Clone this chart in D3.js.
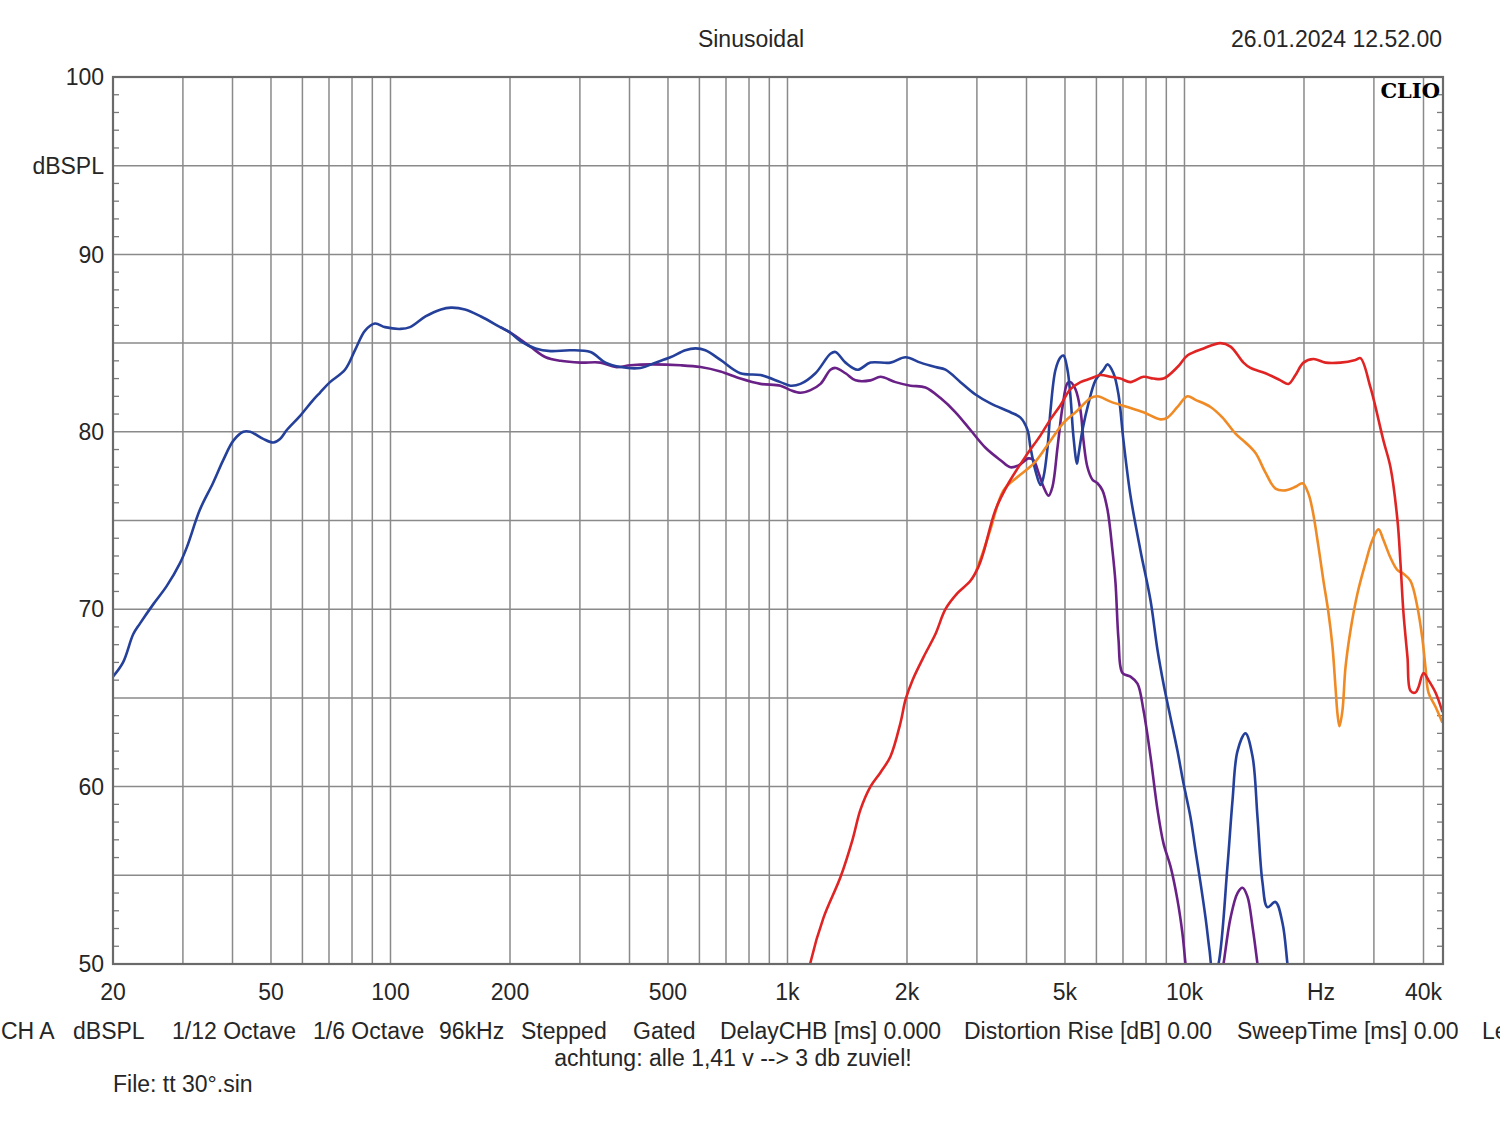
<!DOCTYPE html>
<html>
<head>
<meta charset="utf-8">
<script src="https://cdn.jsdelivr.net/npm/d3@7"></script>
<style>
  html, body { margin: 0; padding: 0; background: #fff; }
  svg { display: block; }
  text { font-family: "Liberation Sans", Arial, sans-serif; fill: #262626; }
</style>
</head>
<body>
<svg id="chart" width="1500" height="1121"></svg>
<script>
// ---------------- DATA ----------------
const titleText = "Sinusoidal";
const dateText = "26.01.2024 12.52.00";
const xTickValues = [20, 50, 100, 200, 500, 1000, 2000, 5000, 10000, 20000, 40000];
const xTickLabels = ["20", "50", "100", "200", "500", "1k", "2k", "5k", "10k", "Hz", "40k"];
const yTickValues = [100, 95, 90, 80, 70, 60, 50];
const yTickLabels = ["100", "dBSPL", "90", "80", "70", "60", "50"];
const footerItems = ["CH A", "dBSPL", "1/12 Octave", "1/6 Octave", "96kHz", "Stepped", "Gated",
  "DelayCHB [ms] 0.000", "Distortion Rise [dB] 0.00", "SweepTime [ms] 0.00", "Le"];
const noteText = "achtung: alle 1,41 v --> 3 db zuviel!";
const fileText = "File: tt 30°.sin";

// [frequency Hz, dB SPL]
const blueCurve = [
  [20,66.2],[21.2,67.0],[22.5,68.6],[23.4,69.2],[25.3,70.3],[27.3,71.3],[29.5,72.6],[30.7,73.5],
  [33.1,75.6],[35.7,77.1],[37.9,78.4],[40.2,79.5],[42.6,80.0],[44.3,80.0],[47.8,79.6],[50.7,79.4],
  [52.7,79.6],[54.8,80.1],[59.2,80.9],[63.9,81.8],[66.4,82.2],[70.4,82.8],[76.8,83.5],[81.4,84.6],
  [86.3,85.7],[91.4,86.1],[96.9,85.9],[106,85.8],[112,85.9],[122.5,86.5],[134,86.9],[142,87.0],
  [154,86.9],[169,86.5],[189,85.9],[200,85.6],[213,85.1],[232,84.7],[253,84.55],[284,84.6],
  [319,84.5],[348,83.9],[380,83.65],[426,83.6],[465,83.9],[507,84.2],[553,84.6],[587,84.7],
  [621,84.6],[678,84.05],[761,83.3],[855,83.2],[960,82.8],[1017,82.6],[1078,82.7],[1176,83.3],
  [1283,84.4],[1321,84.5],[1400,83.9],[1501,83.5],[1618,83.9],[1817,83.9],[1983,84.2],[2163,83.9],
  [2359,83.65],[2500,83.5],[2728,82.8],[2975,82.1],[3246,81.6],[3645,81.1],[3863,80.8],[4023,80.1],
  [4094,79.1],[4214,77.8],[4338,77.0],[4414,77.45],[4518,79.1],[4597,81.2],[4733,83.5],[4871,84.2],
  [4957,84.3],[5073,83.5],[5162,82.0],[5253,79.7],[5360,78.2],[5408,78.7],[5534,80.1],[5730,81.6],
  [5968,82.9],[6252,83.5],[6399,83.8],[6625,83.3],[6820,82.1],[7020,79.5],[7311,76.4],[7748,73.3],
  [8211,70.5],[8551,67.7],[8854,65.8],[9221,63.9],[9603,62.0],[9940,60.2],[10350,58.3],[10660,56.4],
  [10970,54.6],[11300,52.6],[11560,50.8],[11830,49.2],[12180,50.0],[12830,55.5],[13210,59.2],
  [13600,62.0],[14240,63.0],[14840,61.7],[15270,58.3],[15720,54.6],[16180,53.2],[16950,53.5],
  [17660,52.3],[18170,50.0],[18490,48.5]
];
const purpleCurve = [
  [189,85.9],[200,85.6],[225,84.8],[246,84.2],[268,84.0],[301,83.9],[338,83.9],[369,83.65],
  [402,83.75],[452,83.8],[538,83.75],[604,83.65],[678,83.4],[761,83.0],[855,82.7],[960,82.6],
  [1017,82.35],[1078,82.2],[1143,82.35],[1211,82.7],[1283,83.5],[1321,83.6],[1400,83.3],[1484,82.9],
  [1618,82.9],[1715,83.1],[1871,82.8],[2041,82.6],[2226,82.5],[2429,81.9],[2650,81.1],[2890,80.1],
  [3153,79.1],[3440,78.4],[3645,78.0],[3818,78.1],[4047,78.5],[4166,78.4],[4288,77.7],[4414,76.9],
  [4544,76.4],[4650,76.9],[4787,79.1],[4928,81.4],[5073,82.75],[5162,82.8],[5314,82.4],[5471,81.2],
  [5567,79.5],[5697,78.0],[5865,77.3],[6037,77.1],[6215,76.7],[6399,75.6],[6586,73.3],[6702,71.5],
  [6820,68.3],[6979,66.4],[7311,66.2],[7614,65.8],[7884,64.3],[8211,61.7],[8551,58.7],[8854,56.8],
  [9221,55.5],[9603,53.6],[9885,51.7],[10060,50.0],[10230,48.5],[12250,48.5],[12540,50.0],
  [13060,52.6],[13600,54.0],[14000,54.3],[14410,53.8],[14840,52.1],[15270,50.0],[15540,48.5]
];
const redCurve = [
  [1110,48.5],[1143,50.1],[1232,52.6],[1360,54.9],[1458,57.0],[1527,58.7],[1618,60.0],[1715,60.8],
  [1817,61.7],[1926,63.6],[1983,64.9],[2065,66.0],[2201,67.3],[2359,68.6],[2500,70.0],[2680,70.9],
  [2890,71.6],[3028,72.4],[3117,73.2],[3341,75.6],[3603,77.1],[3976,78.6],[4338,79.8],[4597,80.7],
  [4871,81.5],[5162,82.4],[5471,82.8],[5797,83.0],[6144,83.2],[6510,83.1],[6899,83.0],[7311,82.8],
  [7884,83.1],[8355,83.0],[8854,83.0],[9603,83.65],[10170,84.3],[11170,84.7],[12320,85.0],
  [13060,84.8],[14080,83.9],[14660,83.6],[16000,83.3],[17450,82.9],[18280,82.7],[19040,83.2],
  [19940,83.9],[21130,84.1],[22660,83.9],[24710,83.9],[26960,84.05],[27750,84.15],[29410,82.5],
  [31710,79.5],[33030,78.0],[34400,75.0],[35000,72.6],[35610,69.8],[36450,67.3],[37090,65.4],
  [38180,65.3],[38850,65.6],[40000,66.4],[41170,66.0],[42880,65.3],[44660,64.2]
];
const orangeCurve = [
  [2993,72.2],[3117,73.3],[3246,74.5],[3500,76.7],[3796,77.45],[4166,78.2],[4597,79.5],[4957,80.5],
  [5376,81.2],[5797,81.9],[6037,82.0],[6510,81.7],[7185,81.4],[7884,81.1],[8700,80.7],[9061,80.8],
  [9603,81.4],[10170,82.0],[10660,81.8],[11630,81.4],[12470,80.8],[13440,79.9],[14240,79.4],
  [15100,78.8],[16000,77.7],[16950,76.8],[17970,76.7],[19040,76.9],[19830,77.1],[20530,76.5],
  [21010,75.6],[21760,73.5],[22390,71.6],[23050,69.8],[23590,67.9],[24010,65.6],[24290,64.1],
  [24570,63.4],[25000,64.3],[25440,66.7],[26190,68.8],[27280,70.9],[28570,72.6],[29750,73.9],
  [30810,74.5],[31710,73.9],[33030,72.9],[34400,72.2],[35610,72.0],[37090,71.6],[38630,70.1],
  [39760,68.3],[40470,66.7],[41170,65.3],[42880,64.5],[44660,63.6]
];
const seriesList = [
  { name: "purple", data: purpleCurve, color: "#6a2187" },
  { name: "blue", data: blueCurve, color: "#24409a" },
  { name: "orange", data: orangeCurve, color: "#f08a24" },
  { name: "red", data: redCurve, color: "#e02424" }
];

// ---------------- LAYOUT ----------------
(function () {
const svg = d3.select("#chart");
const pL = 113, pR = 1443, pT = 77, pB = 964;
const x = d3.scaleLog().domain([20, 40000]).range([pL, 1423.5]);
const fMax = x.invert(pR);
const y = d3.scaleLinear().domain([50, 100]).range([pB, pT]);

svg.append("defs").append("clipPath").attr("id", "plotClip")
  .append("rect").attr("x", pL).attr("y", pT).attr("width", pR - pL).attr("height", pB - pT);

const grid = svg.append("g");
const vFreqs = x.copy().domain([20, fMax]).ticks().filter(f => f > 20 && f < fMax);
grid.selectAll("line.v").data(vFreqs).join("line")
  .attr("x1", d => x(d)).attr("x2", d => x(d))
  .attr("y1", pT).attr("y2", pB)
  .attr("stroke", "#8a8a8a").attr("stroke-width", 1.5);
const hVals = d3.range(55, 100, 5);
grid.selectAll("line.h").data(hVals).join("line")
  .attr("x1", pL).attr("x2", pR)
  .attr("y1", d => y(d)).attr("y2", d => y(d))
  .attr("stroke", "#8a8a8a").attr("stroke-width", 1.5);
const minor = d3.range(51, 100).filter(v => v % 5 !== 0);
grid.selectAll("line.ml").data(minor).join("line")
  .attr("x1", pL).attr("x2", pL + 6)
  .attr("y1", d => y(d)).attr("y2", d => y(d))
  .attr("stroke", "#7a7a7a").attr("stroke-width", 1.3);
grid.selectAll("line.mr").data(minor).join("line")
  .attr("x1", pR - 6).attr("x2", pR)
  .attr("y1", d => y(d)).attr("y2", d => y(d))
  .attr("stroke", "#7a7a7a").attr("stroke-width", 1.3);

const line = d3.line()
  .x(d => x(d[0])).y(d => y(d[1]))
  .curve(d3.curveCatmullRom.alpha(0.5));
const curves = svg.append("g").attr("clip-path", "url(#plotClip)");
curves.selectAll("path").data(seriesList).join("path")
  .attr("d", d => line(d.data))
  .attr("fill", "none")
  .attr("stroke", d => d.color)
  .attr("stroke-width", 2.6)
  .attr("stroke-linejoin", "round");

svg.append("rect").attr("x", pL).attr("y", pT).attr("width", pR - pL).attr("height", pB - pT)
  .attr("fill", "none").attr("stroke", "#6a6a6a").attr("stroke-width", 2.2);

svg.append("text").attr("x", 1440).attr("y", 98).attr("text-anchor", "end")
  .style("font-family", "'DejaVu Serif', 'Liberation Serif', serif").style("font-weight", "bold")
  .style("font-size", "21px").style("fill", "#000").text("CLIO");

const fs = "23px";
svg.append("g").selectAll("text").data(yTickValues).join("text")
  .attr("x", 104).attr("y", d => y(d)).attr("dy", "0.36em")
  .attr("text-anchor", "end").style("font-size", fs)
  .text((d, i) => yTickLabels[i]);

svg.append("g").selectAll("text").data(xTickValues).join("text")
  .attr("x", (d, i) => x(d) + (xTickLabels[i] === "Hz" ? 17 : 0))
  .attr("y", 992).attr("dy", "0.36em")
  .attr("text-anchor", "middle").style("font-size", fs)
  .text((d, i) => xTickLabels[i]);

svg.append("text").attr("x", 751).attr("y", 39).attr("dy", "0.36em")
  .attr("text-anchor", "middle").style("font-size", fs).text(titleText);
svg.append("text").attr("x", 1442).attr("y", 39).attr("dy", "0.36em")
  .attr("text-anchor", "end").style("font-size", fs).text(dateText);

const footerX = [1, 73, 172, 313, 439, 521, 633, 720, 964, 1237, 1482];
svg.append("g").selectAll("text").data(footerItems).join("text")
  .attr("x", (d, i) => footerX[i]).attr("y", 1031).attr("dy", "0.36em")
  .style("font-size", fs).text(d => d);
svg.append("text").attr("x", 733).attr("y", 1058).attr("dy", "0.36em")
  .attr("text-anchor", "middle").style("font-size", fs).text(noteText);
svg.append("text").attr("x", 113).attr("y", 1084).attr("dy", "0.36em")
  .style("font-size", fs).text(fileText);
})();
</script>
</body>
</html>
